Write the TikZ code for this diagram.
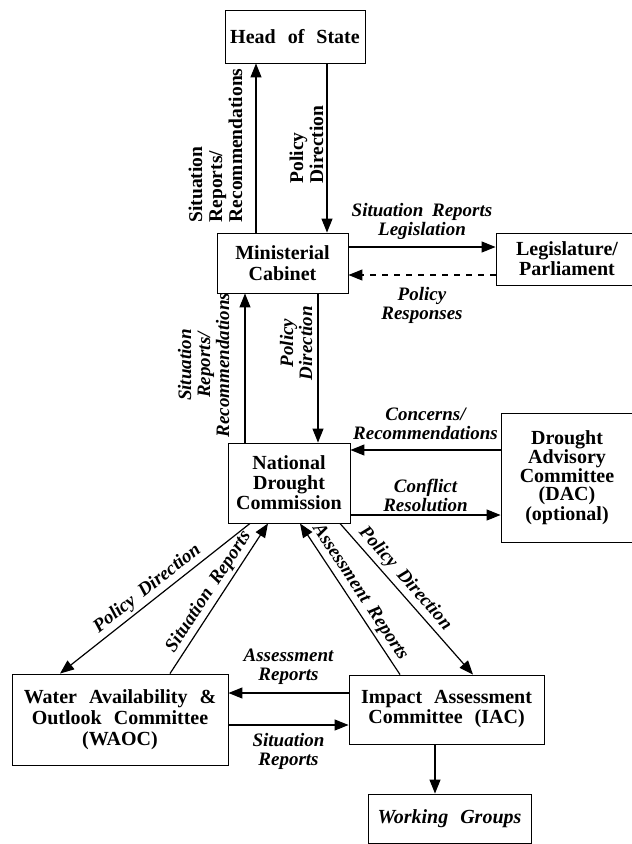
\documentclass[tikz,border=0pt]{standalone}
\usepackage{fontspec}
\setmainfont{Liberation Serif}
\usetikzlibrary{arrows.meta}

\tikzset{
  box/.style={draw, line width=0.9pt, align=center, inner sep=2pt,
    font={\fontsize{20}{#1}\selectfont\bfseries\spaceskip=0.6em}},
  box/.default=20.5,
  lab/.style={align=center, inner sep=3pt,
    font={\fontsize{19}{19}\selectfont\bfseries\itshape\spaceskip=0.45em}},
  vlab/.style={rotate=90, anchor=south, inner sep=#1,
    font={\fontsize{19.5}{20}\selectfont\bfseries\spaceskip=0.45em}},
  arr/.style={line width=1.2pt, -{Triangle[length=14pt,width=11pt]}},
}

\begin{document}
\begin{tikzpicture}[x=1pt,y=-1pt]
  \useasboundingbox (0,0) rectangle (632,844);
  %% boxes
  \node[box, minimum width=140pt, minimum height=53pt] (hos) at (295,36.5) {Head of State};
  \node[box=21.5, minimum width=131pt, minimum height=60pt] (mc) at (282.5,263) {Ministerial\\Cabinet};
  \node[box=20, minimum width=142pt, minimum height=52pt] (leg) at (567,259) {Legislature/\\Parliament};
  \node[box=20, minimum width=122pt, minimum height=80pt] (ndc) at (289,483) {National\\Drought\\Commission};
  \node[box=18, minimum width=132pt, minimum height=129pt] (dac) at (567,477.5) {Drought\\Advisory\\Committee\\(DAC)\\(optional)};
  \node[box=20.7, minimum width=216pt, minimum height=91pt] (waoc) at (120,719.5) {Water Availability \&\\Outlook Committee\\(WAOC)};
  \node[box=20, minimum width=195pt, minimum height=69pt] (iac) at (446.5,709.5) {Impact Assessment\\Committee (IAC)};
  \node[box, minimum width=163pt, minimum height=49pt] (wg) at (449.5,818.5) {\itshape Working Groups};

  %% head of state <-> cabinet
  \path ([xshift=-39pt]hos.south) coordinate (hosA)
        ([xshift=32pt]hos.south) coordinate (hosB);
  \draw[arr] (mc.north -| hosA) -- (hosA)
    node[pos=0.515, vlab=13pt, align=left] {Situation\\Reports/\\Recommendations};
  \draw[arr] (hosB) -- (mc.north -| hosB)
    node[pos=0.48, vlab=3pt, align=left] {Policy\\Direction};

  %% cabinet <-> legislature
  \draw[arr] ([yshift=16pt]mc.east) -- ([yshift=16pt]mc.east -| leg.west)
    node[midway, above=4pt, lab] {Situation Reports\\Legislation};
  \draw[arr, dash pattern=on 6pt off 6pt] ([yshift=-12pt]mc.east -| leg.west) -- ([yshift=-12pt]mc.east)
    node[midway, below=9pt, lab] {Policy\\Responses};

  %% cabinet <-> commission
  \path ([xshift=-37.5pt]mc.south) coordinate (mcA)
        ([xshift=35.5pt]mc.south) coordinate (mcB);
  \draw[arr] (ndc.north -| mcA) -- (mcA)
    node[pos=0.52, lab, rotate=90, anchor=south, inner sep=15pt] {Situation\\Reports/\\Recommendations};
  \draw[arr] (mcB) -- (ndc.north -| mcB)
    node[pos=0.333, lab, rotate=90, anchor=south, inner sep=5pt] {Policy\\Direction};

  %% commission <-> advisory committee
  \draw[arr] ([yshift=33pt]dac.west |- ndc.east) -- ([yshift=33pt]ndc.east)
    node[midway, above=7pt, lab] {Concerns/\\Recommendations};
  \draw[arr] ([yshift=-32pt]ndc.east) -- ([yshift=-32pt]dac.west |- ndc.east)
    node[midway, above=0pt, lab] {Conflict\\Resolution};

  %% commission <-> committees
  \draw[arr] ([xshift=-39pt]ndc.south) -- ([xshift=-60pt]waoc.north)
    node[midway, sloped, above, lab] {Policy Direction};
  \draw[arr] ([xshift=50pt]waoc.north) -- ([xshift=-21pt]ndc.south)
    node[midway, sloped, above, lab] {Situation Reports};
  \draw[arr] ([xshift=-46.5pt]iac.north) -- ([xshift=11pt]ndc.south)
    node[midway, sloped, above, lab] {Assessment Reports};
  \draw[arr] ([xshift=51pt]ndc.south) -- ([xshift=26.5pt]iac.north)
    node[pos=0.42, sloped, above, lab] {Policy Direction};

  %% committees
  \draw[arr] ([yshift=16.5pt]iac.west) -- ([yshift=16.5pt]iac.west -| waoc.east)
    node[midway, above=5pt, lab] {Assessment\\Reports};
  \draw[arr] ([yshift=-15.5pt]iac.west -| waoc.east) -- ([yshift=-15.5pt]iac.west)
    node[midway, below=5pt, lab] {Situation\\Reports};
  \draw[arr] ([xshift=-11.5pt]iac.south) -- ([xshift=-11.5pt]iac.south |- wg.north);
\end{tikzpicture}
\end{document}
